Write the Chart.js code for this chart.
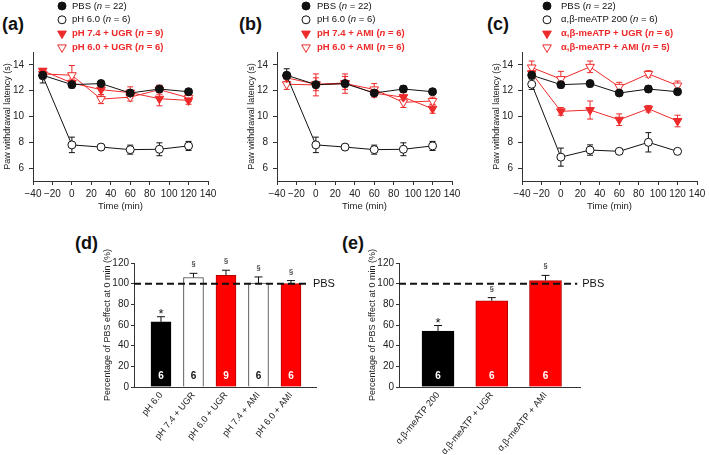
<!DOCTYPE html>
<html>
<head>
<meta charset="utf-8">
<script src="https://cdn.jsdelivr.net/npm/chart.js@4.4.1/dist/chart.umd.min.js"></script>
<style>
  body { margin: 0; background: #fff; width: 709px; height: 455px; position: relative; overflow: hidden; font-family: "Liberation Sans", Arial, sans-serif; }
  canvas { position: absolute; }
  .tag { position: absolute; font-weight: bold; font-size: 18px; line-height: 18px; color: #111; }
</style>
</head>
<body>
<div class="tag" style="left:2px;top:15px">(a)</div>
<div class="tag" style="left:239px;top:15px">(b)</div>
<div class="tag" style="left:487px;top:15px">(c)</div>
<div class="tag" style="left:75px;top:234px">(d)</div>
<div class="tag" style="left:342px;top:234px">(e)</div>

<canvas id="chartA" width="220" height="215" style="left:0;top:0"></canvas>
<canvas id="chartB" width="220" height="215" style="left:244px;top:0"></canvas>
<canvas id="chartC" width="220" height="215" style="left:489px;top:0"></canvas>
<canvas id="chartD" width="275" height="230" style="left:70px;top:225px"></canvas>
<canvas id="chartE" width="285" height="230" style="left:330px;top:225px"></canvas>

<script>
// ---- data ----
const times = [-30, 0, 30, 60, 90, 120];
const timeTicks = [-40, -20, 0, 20, 40, 60, 80, 100, 120, 140];
const latencyTicks = [6, 8, 10, 12, 14];

// (a)
const aNames = ['PBS', 'pH 6.0', 'pH 7.4 + UGR', 'pH 6.0 + UGR'];
const aN = [22, 6, 9, 6];
const pbs = [13.2, 12.47, 12.55, 11.82, 12.13, 11.92];
const pbsErr = [0.2, 0.25, 0.25, 0.2, 0.25, 0.2];
const ph6 = [13.15, 7.8, 7.63, 7.43, 7.46, 7.72];
const ph6Err = [0.55, 0.6, 0.2, 0.35, 0.5, 0.35];
const ph74Ugr = [13.55, 12.6, 12.08, 11.85, 11.38, 11.25];
const ph74UgrErr = [0.15, 0.3, 0.4, 0.45, 0.55, 0.3];
const ph6Ugr = [13.3, 13.2, 11.35, 11.5, 12.08, 11.45];
const ph6UgrErr = [0.2, 0.75, 0.35, 0.3, 0.35, 0.3];

// (b)
const bNames = ['PBS', 'pH 6.0', 'pH 7.4 + AMI', 'pH 6.0 + AMI'];
const bN = [22, 6, 6, 6];
const ph74Ami = [13.0, 12.5, 12.6, 11.8, 11.5, 10.6];
const ph74AmiErr = [0.3, 0.5, 0.5, 0.3, 0.35, 0.35];
const ph6Ami = [12.5, 12.45, 12.55, 12.1, 11.1, 11.2];
const ph6AmiErr = [0.4, 0.85, 0.75, 0.45, 0.4, 0.3];

// (c)
const cNames = ['PBS', 'α,β-meATP 200', 'α,β-meATP + UGR', 'α,β-meATP + AMI'];
const cN = [22, 6, 6, 5];
const atp = [12.5, 6.85, 7.4, 7.3, 8.0, 7.3];
const atpErr = [0.4, 0.7, 0.4, 0.2, 0.75, 0.1];
const atpUgr = [13.35, 10.4, 10.5, 9.75, 10.6, 9.65];
const atpUgrErr = [0.2, 0.3, 0.7, 0.45, 0.25, 0.45];
const atpAmi = [13.8, 12.9, 13.85, 12.3, 13.3, 12.4];
const atpAmiErr = [0.5, 0.6, 0.45, 0.35, 0.25, 0.35];

// (d)
const dLabels = ['pH 6.0', 'pH 7.4 + UGR', 'pH 6.0 + UGR', 'pH 7.4 + AMI', 'pH 6.0 + AMI'];
const dValues = [63, 106, 108, 100.5, 100];
const dErrors = [5, 4, 5, 6, 3];
const dCounts = [6, 6, 9, 6, 6];
const dMarks = ['*', '§', '§', '§', '§'];

// (e)
const eLabels = ['α,β-meATP 200', 'α,β-meATP + UGR', 'α,β-meATP + AMI'];
const eValues = [54, 83.5, 103];
const eErrors = [5.5, 3, 5];
const eCounts = [6, 6, 6];
const eMarks = ['*', '§', '§'];

// ---- styles ----
const FONT = '"Liberation Sans", Arial, sans-serif';
const RED = '#ee2a2a';
const BARRED = '#ff0000';
Chart.defaults.font.family = FONT;
Chart.defaults.color = '#222';

const styles = {
  filled: { borderColor: '#111', pointBackgroundColor: '#111', pointBorderColor: '#111', pointStyle: 'circle', pointRadius: 4, red: false },
  open:   { borderColor: '#111', pointBackgroundColor: '#fff', pointBorderColor: '#111', pointStyle: 'circle', pointRadius: 4, red: false },
  redFilled: { borderColor: RED, pointBackgroundColor: RED, pointBorderColor: RED, pointStyle: 'triangle', pointRotation: 180, pointRadius: 5, red: true },
  redOpen:   { borderColor: RED, pointBackgroundColor: '#fff', pointBorderColor: RED, pointStyle: 'triangle', pointRotation: 180, pointRadius: 5, red: true }
};

function series(label, n, values, errs, style) {
  return Object.assign({
    label: label,
    n: n,
    data: times.map((t, i) => ({ x: t, y: values[i] })),
    err: errs,
    borderWidth: 1,
    pointBorderWidth: 1,
    fill: false
  }, style);
}

// error bars for the time course panels
const lineErrors = {
  id: 'lineErrors',
  beforeDatasetsDraw(chart) {
    const { ctx } = chart;
    const xs = chart.scales.x, ys = chart.scales.y;
    ctx.save();
    ctx.lineWidth = 1;
    chart.data.datasets.forEach(ds => {
      if (!ds.err) return;
      ctx.strokeStyle = ds.borderColor;
      ds.data.forEach((p, i) => {
        const x = xs.getPixelForValue(p.x);
        const y1 = ys.getPixelForValue(p.y + ds.err[i]);
        const y2 = ys.getPixelForValue(p.y - ds.err[i]);
        ctx.beginPath();
        ctx.moveTo(x, y1); ctx.lineTo(x, y2);
        ctx.moveTo(x - 3, y1); ctx.lineTo(x + 3, y1);
        ctx.moveTo(x - 3, y2); ctx.lineTo(x + 3, y2);
        ctx.stroke();
      });
    });
    ctx.restore();
  }
};

// stacked legend above each time course panel
const sideLegend = {
  id: 'sideLegend',
  afterDraw(chart, args, opts) {
    const { ctx } = chart;
    ctx.save();
    chart.data.datasets.forEach((ds, i) => {
      const y = opts.y0 + i * opts.dy;
      ctx.fillStyle = ds.pointBackgroundColor;
      ctx.strokeStyle = ds.pointBorderColor;
      ctx.lineWidth = 1;
      Chart.helpers.drawPoint(ctx, {
        pointStyle: ds.pointStyle,
        rotation: ds.pointRotation || 0,
        radius: ds.pointRadius,
        borderWidth: 1
      }, opts.mx, y);
      const weight = ds.red ? 'bold ' : '';
      ctx.fillStyle = ds.red ? RED : '#111';
      ctx.textBaseline = 'middle';
      ctx.textAlign = 'left';
      let x = opts.tx;
      const parts = [[ds.label + ' (', ''], ['n', 'italic '], [' = ' + ds.n + ')', '']];
      parts.forEach(([t, st]) => {
        ctx.font = st + weight + '9.5px ' + FONT;
        ctx.fillText(t, x, y);
        x += ctx.measureText(t).width;
      });
    });
    ctx.restore();
  }
};

function lineOptions(mx, tx) {
  return {
    responsive: false,
    animation: false,
    layout: { padding: { top: 52, right: 12, bottom: 0, left: 0 } },
    plugins: {
      legend: { display: false },
      tooltip: { enabled: false },
      sideLegend: { mx: mx, tx: tx, y0: 6, dy: 13.8 }
    },
    scales: {
      x: {
        type: 'linear', min: -40, max: 140,
        afterFit: s => { s.height = 34; },
        afterBuildTicks: s => { s.ticks = timeTicks.map(v => ({ value: v })); },
        ticks: { autoSkip: false, padding: 3, maxRotation: 0, font: { size: 10 }, color: '#222',
                 callback: v => v < 0 ? '\u2212' + (-v) : v },
        grid: { display: true, drawOnChartArea: false, tickLength: 4, color: '#333' },
        border: { color: '#333', width: 1 },
        title: { display: true, text: 'Time (min)', font: { size: 9.5 }, color: '#222', padding: { top: 0, bottom: 3 } }
      },
      y: {
        min: 5, max: 15,
        afterFit: s => { s.width = 33; },
        afterBuildTicks: s => { s.ticks = latencyTicks.map(v => ({ value: v })); },
        ticks: { padding: 5, font: { size: 10 }, color: '#222' },
        grid: { display: true, drawOnChartArea: false, tickLength: 4, color: '#333' },
        border: { color: '#333', width: 1 },
        title: { display: true, text: 'Paw withdrawal latency (s)', font: { size: 9 }, color: '#222', padding: { top: 2, bottom: 0 } }
      }
    }
  };
}

new Chart(document.getElementById('chartA'), {
  type: 'line',
  data: { datasets: [
    series(aNames[0], aN[0], pbs, pbsErr, styles.filled),
    series(aNames[1], aN[1], ph6, ph6Err, styles.open),
    series(aNames[2], aN[2], ph74Ugr, ph74UgrErr, styles.redFilled),
    series(aNames[3], aN[3], ph6Ugr, ph6UgrErr, styles.redOpen)
  ] },
  options: lineOptions(62, 72),
  plugins: [lineErrors, sideLegend]
});

new Chart(document.getElementById('chartB'), {
  type: 'line',
  data: { datasets: [
    series(bNames[0], bN[0], pbs, pbsErr, styles.filled),
    series(bNames[1], bN[1], ph6, ph6Err, styles.open),
    series(bNames[2], bN[2], ph74Ami, ph74AmiErr, styles.redFilled),
    series(bNames[3], bN[3], ph6Ami, ph6AmiErr, styles.redOpen)
  ] },
  options: lineOptions(62, 73),
  plugins: [lineErrors, sideLegend]
});

new Chart(document.getElementById('chartC'), {
  type: 'line',
  data: { datasets: [
    series(cNames[0], cN[0], pbs, pbsErr, styles.filled),
    series(cNames[1], cN[1], atp, atpErr, styles.open),
    series(cNames[2], cN[2], atpUgr, atpUgrErr, styles.redFilled),
    series(cNames[3], cN[3], atpAmi, atpAmiErr, styles.redOpen)
  ] },
  options: lineOptions(58, 72),
  plugins: [lineErrors, sideLegend]
});

// ---- bar panels ----
const barNotes = {
  id: 'barNotes',
  afterDatasetsDraw(chart, args, o) {
    const { ctx, chartArea } = chart;
    const xs = chart.scales.x, ys = chart.scales.y;
    const ds = chart.data.datasets[0];
    ctx.save();
    // PBS reference line
    const y100 = ys.getPixelForValue(100);
    const xEnd = xs.getPixelForValue(o.dashEnd);
    ctx.strokeStyle = '#111';
    ctx.lineWidth = 2;
    ctx.setLineDash([7, 4]);
    ctx.beginPath(); ctx.moveTo(chartArea.left, y100); ctx.lineTo(xEnd, y100); ctx.stroke();
    ctx.setLineDash([]);
    ctx.fillStyle = '#111';
    ctx.font = '11px ' + FONT;
    ctx.textAlign = 'left';
    ctx.textBaseline = 'middle';
    ctx.fillText('PBS', xEnd + 5, y100);

    ds.data.forEach((p, i) => {
      const x = xs.getPixelForValue(p.x);
      const top = ys.getPixelForValue(p.y);
      const et = ys.getPixelForValue(p.y + ds.err[i]);
      ctx.strokeStyle = '#111';
      ctx.lineWidth = 1;
      ctx.beginPath();
      ctx.moveTo(x, top); ctx.lineTo(x, et);
      ctx.moveTo(x - 4, et); ctx.lineTo(x + 4, et);
      ctx.stroke();

      const m = ds.marks[i];
      ctx.fillStyle = '#111';
      ctx.textAlign = 'center';
      ctx.textBaseline = 'alphabetic';
      if (m === '*') {
        ctx.font = '13px ' + FONT;
        ctx.fillText(m, x, et + 1);
      } else {
        ctx.font = '8px ' + FONT;
        ctx.fillText(m, x, et - 7);
      }

      ctx.font = 'bold 10px ' + FONT;
      ctx.fillStyle = o.countColors[i];
      ctx.textBaseline = 'middle';
      ctx.fillText(String(ds.counts[i]), x, ys.getPixelForValue(0) - 11);
    });
    ctx.restore();
  }
};

function barOptions(labels, min, max, pad, dashEnd, countColors) {
  return {
    responsive: false,
    animation: false,
    layout: { padding: pad },
    plugins: {
      legend: { display: false },
      tooltip: { enabled: false },
      barNotes: { dashEnd: dashEnd, countColors: countColors }
    },
    scales: {
      x: {
        type: 'linear', min: min, max: max, offset: false,
        afterFit: s => { s.height = 68; },
        afterBuildTicks: s => { s.ticks = labels.map((l, i) => ({ value: i + 1 })); },
        ticks: { autoSkip: false, minRotation: 51, maxRotation: 51, padding: -5, font: { size: 9.2 }, color: '#222',
                 callback: v => labels[v - 1] },
        grid: { display: false },
        border: { color: '#333', width: 1 }
      },
      y: {
        min: 0, max: 120,
        afterFit: s => { s.width = 34; },
        ticks: { stepSize: 20, padding: 2, font: { size: 10 }, color: '#222' },
        grid: { display: true, drawOnChartArea: false, tickLength: 3, color: '#333' },
        border: { color: '#333', width: 1 },
        title: { display: true, text: 'Percentage of PBS effect at 0 min (%)', font: { size: 9 }, color: '#222', padding: { top: 2, bottom: 0 } }
      }
    }
  };
}

new Chart(document.getElementById('chartD'), {
  type: 'bar',
  data: { datasets: [{
    data: dValues.map((v, i) => ({ x: i + 1, y: v })),
    err: dErrors, counts: dCounts, marks: dMarks,
    backgroundColor: ['#000', '#fff', BARRED, '#fff', BARRED],
    borderColor: ['#000', '#444', '#b00000', '#444', '#b00000'],
    borderWidth: 1,
    barThickness: 20
  }] },
  options: barOptions(dLabels, 0.17, 5.77, { left: 30, top: 38, right: 29, bottom: 0 }, 5.52,
                      ['#fff', '#111', '#fff', '#111', '#fff']),
  plugins: [barNotes]
});

new Chart(document.getElementById('chartE'), {
  type: 'bar',
  data: { datasets: [{
    data: eValues.map((v, i) => ({ x: i + 1, y: v })),
    err: eErrors, counts: eCounts, marks: eMarks,
    backgroundColor: ['#000', BARRED, BARRED],
    borderColor: ['#000', '#b00000', '#b00000'],
    borderWidth: 1,
    barThickness: 32
  }] },
  options: barOptions(eLabels, 0.274, 3.642, { left: 35, top: 38, right: 35, bottom: 0 }, 3.59,
                      ['#fff', '#fff', '#fff']),
  plugins: [barNotes]
});
</script>
</body>
</html>
